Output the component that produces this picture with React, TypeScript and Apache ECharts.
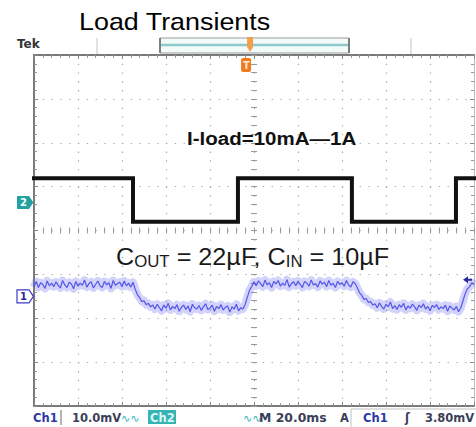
import React, { useEffect, useRef } from "react";
import * as echarts from "echarts";

// ---- axis / scale data ----
const timeMinMs = -100;
const timeMaxMs = 100;
const timeDivMs = 20; // 20.0 ms / div
const divMin = -4;
const divMax = 4;
const ch1MinMv = -25; // 10.0 mV / div, ch1 ground at -1.5 div
const ch1MaxMv = 55;

// ---- channel 1 (output voltage ripple, mV), sampled every 1 ms from -100 ms ----
const ch1StartMs = -100;
const ch1StepMs = 1;
const ch1Mv = [
  2.1, 3.4, 2.0, 3.1, 2.7, 1.8, 3.5, 2.4, 3.0, 2.2,
  3.3, 2.5, 1.9, 3.6, 2.6, 2.0, 3.2, 2.8, 1.7, 3.4,
  2.3, 3.0, 2.5, 3.7, 2.1, 2.9, 3.3, 1.9, 2.7, 3.5,
  2.4, 2.0, 3.4, 2.6, 3.1, 1.8, 3.6, 2.5, 2.9, 3.2,
  2.2, 3.5, 2.4, 3.0, 2.1,
  3.2, 1.6, 0.4, -0.3, -1.2, -1.0, -1.9, -1.6, -2.4, -2.0,
  -2.9, -1.8, -2.6, -3.3, -2.0, -2.7, -1.6, -3.1, -2.3, -2.8,
  -1.9, -3.4, -2.5, -2.0, -3.0, -2.2, -3.5, -1.8, -2.6, -2.9,
  -2.1, -3.2, -2.4, -1.7, -3.0, -2.7, -2.0, -3.4, -2.3, -2.8,
  -1.9, -3.1, -2.5, -2.2, -3.6, -2.4, -2.9, -1.8, -3.3, -2.6,
  -2.9, -1.8, -0.2, 1.4, 2.3, 3.3,
  2.4, 3.5, 2.9, 2.2, 3.7, 2.6, 3.1, 2.0, 3.4, 2.8,
  3.6, 2.3, 3.0, 2.5, 3.8, 2.1, 2.9, 3.3, 2.4, 3.5,
  2.7, 2.0, 3.4, 3.0, 2.3, 3.7, 2.6, 2.9, 2.1, 3.5,
  2.8, 3.2, 2.2, 3.6, 2.5, 3.0, 2.0, 3.4, 2.7, 3.1,
  2.3, 3.6, 2.6, 2.1, 3.3,
  2.9, 1.9, 0.8, 0.2, -0.7, -0.5, -1.4, -1.2, -2.0, -1.7,
  -2.6, -1.5, -2.3, -2.9, -1.8, -2.4, -1.3, -2.8, -2.1, -3.0,
  -1.9, -2.5, -1.6, -3.1, -2.2, -2.7, -1.8, -2.4, -3.2, -2.0,
  -2.6, -1.7, -2.9, -2.3, -3.3, -2.1, -2.5, -1.9, -3.0, -2.4,
  -2.8, -2.0, -3.4, -2.2, -2.7, -3.1, -2.3, -3.5,
  -2.6, -1.0, 0.6, 1.7, 2.2, 3.1, 2.7,
];

// ---- channel 2 (load current step), in divisions ----
const ch2EdgesMs = [-55, -7.3, 44.5, 91.8];
const ch2HighDiv = 1.19;
const ch2LowDiv = 0.2;

// ---- markers ----
const ch1MarkerMv = 0;
const ch2MarkerDiv = 0.64;
const triggerLevelMv = 3.8;
const triggerTimeMs = -3.6;

// ---- texts ----
const titleText = "Load Transients";
const loadText = "I-load=10mA\u20141A";
const statusCh1 = "Ch1";
const statusCh1Scale = "10.0mV";
const statusCh2 = "Ch2";
const statusTime = "M 20.0ms";
const statusTrigMode = "A";
const statusTrigSrc = "Ch1";
const statusTrigLevel = "3.80mV";

const GL = 34, GT = 55, GW = 440, GH = 351;
const SPLIT_COLOR = "#a8a8a8";
const BORDER_COLOR = "#7a7a7a";
const TEK_FONT = '"DejaVu Sans", sans-serif';
const ANN_FONT = '"Liberation Sans", Arial, sans-serif';

const ch1Data = ch1Mv.map((v, i) => [ch1StartMs + i * ch1StepMs, v]);
const ch2Data: number[][] = [];
{
  let high = true;
  ch2Data.push([timeMinMs, ch2HighDiv]);
  for (const t of ch2EdgesMs) {
    ch2Data.push([t, high ? ch2HighDiv : ch2LowDiv]);
    high = !high;
    ch2Data.push([t, high ? ch2HighDiv : ch2LowDiv]);
  }
  ch2Data.push([timeMaxMs, high ? ch2HighDiv : ch2LowDiv]);
}

const grid = { left: GL, top: GT, width: GW, height: GH };

function borderX(position: string, split: boolean, gridIndex: number) {
  return {
    type: "value", gridIndex, position, min: timeMinMs, max: timeMaxMs, interval: timeDivMs,
    axisLine: { show: true, onZero: false, lineStyle: { color: BORDER_COLOR, width: 2 } },
    axisTick: { show: true, inside: true, length: 4, lineStyle: { color: "#888" } },
    minorTick: { show: true, splitNumber: 5, length: 3, lineStyle: { color: "#999" } },
    axisLabel: { show: false },
    splitLine: split ? { show: true, lineStyle: { color: SPLIT_COLOR, width: 1.2, type: [1.3, 7.48] } } : { show: false },
  };
}
function borderY(position: string, split: boolean, gridIndex: number, color = BORDER_COLOR, width = 2) {
  return {
    type: "value", gridIndex, position, min: divMin, max: divMax, interval: 1,
    axisLine: { show: true, onZero: false, lineStyle: { color, width } },
    axisTick: { show: true, inside: true, length: 4, lineStyle: { color: "#888" } },
    minorTick: { show: true, splitNumber: 5, length: 3, lineStyle: { color: "#999" } },
    axisLabel: { show: false },
    splitLine: split ? { show: true, lineStyle: { color: SPLIT_COLOR, width: 1.2, type: [1.3, 7.5] } } : { show: false },
  };
}
function centerX(gridIndex: number, inside: boolean) {
  return {
    type: "value", gridIndex, position: "bottom", min: timeMinMs, max: timeMaxMs, interval: timeDivMs,
    axisLine: { show: false, onZero: true },
    axisTick: { show: true, inside, length: 3, lineStyle: { color: "#999" } },
    minorTick: { show: true, splitNumber: 5, length: 3, lineStyle: { color: "#999" } },
    axisLabel: { show: false }, splitLine: { show: false },
  };
}
function centerY(gridIndex: number, inside: boolean) {
  return {
    type: "value", gridIndex, position: "left", min: divMin, max: divMax, interval: 1,
    axisLine: { show: false, onZero: true },
    axisTick: { show: true, inside, length: 3, lineStyle: { color: "#999" } },
    minorTick: { show: true, splitNumber: 5, length: 3, lineStyle: { color: "#999" } },
    axisLabel: { show: false }, splitLine: { show: false },
  };
}

const option: any = {
  animation: false,
  backgroundColor: "#ffffff",
  grid: [grid, grid, grid],
  xAxis: [
    borderX("bottom", true, 0),
    borderX("top", false, 0),
    centerX(1, true),
    centerX(2, false),
  ],
  yAxis: [
    borderY("left", true, 0),
    borderY("right", false, 0, "#bdbdbd", 1),
    { type: "value", gridIndex: 0, position: "right", min: ch1MinMv, max: ch1MaxMv, show: false },
    centerY(1, true),
    centerY(2, false),
  ],
  series: [
    {
      name: "Ch1 band", type: "line", xAxisIndex: 0, yAxisIndex: 2, data: ch1Data,
      showSymbol: false, symbol: "none", z: 2, silent: true,
      lineStyle: { color: "#6a6af0", width: 8, opacity: 0.3, join: "round" },
    },
    {
      name: "Ch1", type: "line", xAxisIndex: 0, yAxisIndex: 2, data: ch1Data,
      showSymbol: false, symbol: "none", z: 3,
      lineStyle: { color: "#4848e6", width: 1.2, opacity: 0.9 },
    },
    {
      name: "Ch2", type: "line", xAxisIndex: 0, yAxisIndex: 0, data: ch2Data,
      showSymbol: false, symbol: "none", z: 4,
      lineStyle: { color: "#111111", width: 4, join: "miter", cap: "square" },
    },
  ],
};

function txt(x: number, y: number, text: string, font: string, fill: string, extra: any = {}) {
  return {
    type: "text", x, y, z: 20, ...extra,
    style: { text, x: 0, y: 0, font, fill, textAlign: "left", align: "left", textVerticalAlign: "middle", verticalAlign: "middle" },
  };
}

export default function App() {
  const ref = useRef<HTMLDivElement>(null);
  useEffect(() => {
    const el = ref.current!;
    const chart = echarts.init(el, null, { renderer: "svg" });
    chart.setOption(option);
    const px = (yi: number, pt: number[]) => chart.convertToPixel({ xAxisIndex: 0, yAxisIndex: yi } as any, pt) as unknown as number[];
    const m1 = px(2, [timeMinMs, ch1MarkerMv]);
    const m2 = px(0, [timeMinMs, ch2MarkerDiv]);
    const tl = px(2, [timeMaxMs, triggerLevelMv]);
    const tp = px(0, [triggerTimeMs, divMax]);
    const y1 = m1[1], y2 = m2[1], yt = tl[1], xr = tl[0], xt = tp[0], yTop = tp[1];
    const mL = GL - 17;
    const sy = 418;
    const sFont = `bold 11.5px ${TEK_FONT}`;
    chart.setOption({
      graphic: [
        // title
        txt(79, 22, titleText, `24px ${ANN_FONT}`, "#000", { scaleX: 1.12 }),
        // Tek logo
        txt(17, 44, "Tek", `bold 12px ${TEK_FONT}`, "#333"),
        // record view
        { type: "line", z: 10, shape: { x1: 97, y1: 38, x2: 97, y2: GT - 1 }, style: { stroke: "#c4c4c4", lineWidth: 1 } },
        { type: "line", z: 10, shape: { x1: 411, y1: 38, x2: 411, y2: GT - 1 }, style: { stroke: "#c4c4c4", lineWidth: 1 } },
        { type: "rect", z: 10, shape: { x: 160, y: 38, width: 189, height: 15 }, style: { fill: "#f2fafa", stroke: "#9a9a9a", lineWidth: 1 } },
        { type: "line", z: 11, shape: { x1: 161, y1: 45, x2: 348, y2: 45 }, style: { stroke: "#8fcaca", lineWidth: 2.5 } },
        { type: "line", z: 11, shape: { x1: 160, y1: 38, x2: 160, y2: 53 }, style: { stroke: "#666", lineWidth: 1.5 } },
        { type: "line", z: 11, shape: { x1: 349, y1: 38, x2: 349, y2: 53 }, style: { stroke: "#666", lineWidth: 1.5 } },
        { type: "polygon", z: 12, shape: { points: [[xt + 1, 37], [xt + 7, 37], [xt + 7, 47], [xt + 4, 52], [xt + 1, 47]] }, style: { fill: "#f4a04a" } },
        // trigger position marker
        { type: "rect", z: 12, shape: { x: xt - 5, y: yTop + 3, width: 10, height: 14, r: 2 }, style: { fill: "#f07a1c" } },
        txt(xt - 3.2, yTop + 10, "T", `bold 10px ${TEK_FONT}`, "#fde6cf"),
        // ch2 marker
        { type: "polygon", z: 12, shape: { points: [[mL, y2 - 6.5], [GL - 5, y2 - 6.5], [GL - 0.5, y2], [GL - 5, y2 + 6.5], [mL, y2 + 6.5]] }, style: { fill: "#23a0a0" } },
        txt(mL + 3, y2 + 0.5, "2", `bold 10px ${TEK_FONT}`, "#ffffff"),
        // ch1 marker
        { type: "polygon", z: 12, shape: { points: [[mL, y1 - 6.5], [GL - 5, y1 - 6.5], [GL - 0.5, y1], [GL - 5, y1 + 6.5], [mL, y1 + 6.5]] }, style: { fill: "#ffffff", stroke: "#3c3cc8", lineWidth: 1.2 } },
        txt(mL + 3, y1 + 0.5, "1", `bold 10px ${TEK_FONT}`, "#2a2a9a"),
        // trigger level marker
        { type: "polygon", z: 12, shape: { points: [[xr - 11, yt], [xr - 6, yt - 3.5], [xr - 6, yt - 1], [xr - 2, yt - 1], [xr - 2, yt + 1], [xr - 6, yt + 1], [xr - 6, yt + 3.5]] }, style: { fill: "#2a2aa0" } },
        // annotations
        txt(187, 138, loadText, `bold 19px ${ANN_FONT}`, "#111", { scaleX: 1.08 }),
        {
          type: "text", x: 116, y: 257, z: 20, scaleX: 1.05,
          style: {
            text: "{b|C}{s|OUT}{b| = 22\u00b5F, C}{s|IN}{b| = 10\u00b5F}",
            x: 0, y: 0, fill: "#1a1a1a", textAlign: "left", align: "left", textVerticalAlign: "middle", verticalAlign: "middle",
            rich: {
              b: { fontSize: 24, fontFamily: ANN_FONT, lineHeight: 24, fill: "#1a1a1a", verticalAlign: "bottom" },
              s: { fontSize: 16, fontFamily: ANN_FONT, lineHeight: 19, fill: "#1a1a1a", verticalAlign: "bottom" },
            },
          },
        },
        // status bar
        txt(33, sy, statusCh1, sFont, "#2b3aa6"),
        { type: "line", z: 10, shape: { x1: 61, y1: 410, x2: 61, y2: 425 }, style: { stroke: "#9a9a9a", lineWidth: 1.5 } },
        txt(72, sy, statusCh1Scale, sFont, "#3a3f58"),
        txt(121, sy, "\u223f\u223f", `11px ${TEK_FONT}`, "#3cb8c0"),
        { type: "rect", z: 10, shape: { x: 148, y: 410, width: 28, height: 14 }, style: { fill: "#36b4b4" } },
        txt(150, sy, statusCh2, sFont, "#dff6f6"),
        txt(243, sy, "\u223f\u223f", `11px ${TEK_FONT}`, "#3cb8c0"),
        txt(259, sy, statusTime, sFont, "#3a3f58", { scaleX: 1.08 }),
        txt(340, sy, statusTrigMode, sFont, "#3a3f58"),
        { type: "rect", z: 9, shape: { x: 351, y: 409, width: 130, height: 22 }, style: { fill: "none", stroke: "#c0c0c0", lineWidth: 1 } },
        txt(363, sy, statusTrigSrc, sFont, "#2b3aa6"),
        txt(405, sy, "\u0283", sFont, "#3a3f58"),
        txt(425, sy, statusTrigLevel, sFont, "#3a3f58"),
      ],
    });
    return () => chart.dispose();
  }, []);
  return <div ref={ref} style={{ position: "absolute", left: 0, top: 0, width: 476, height: 427, background: "#fff" }} />;
}
